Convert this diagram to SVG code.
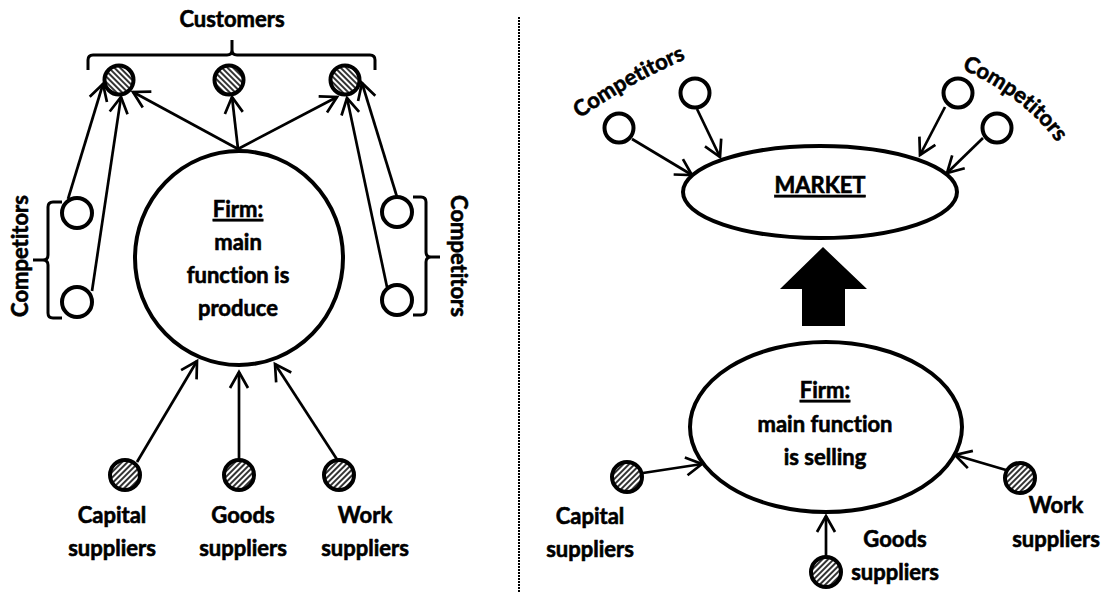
<svg xmlns="http://www.w3.org/2000/svg" width="1104" height="595" viewBox="0 0 1104 595">
<style>
.t{font-family:Lato,"Liberation Sans",Arial,sans-serif;font-weight:bold;font-size:22px;fill:#000;stroke:#000;stroke-width:0.6;text-anchor:middle;font-variant-ligatures:none}
.node{fill:#fff;stroke:#000;stroke-width:4}
.hA{fill:url(#hatchA);stroke:#000;stroke-width:4}
.hB{fill:url(#hatchB);stroke:#000;stroke-width:4}
.big{fill:#fff;stroke:#000;stroke-width:4}
.con{stroke:#000;stroke-width:2.7;fill:none;marker-end:url(#arr)}
.br{stroke:#000;stroke-width:3;fill:none}
.u{text-decoration:underline}
</style>
<defs>
<pattern id="hatchA" patternUnits="userSpaceOnUse" width="4" height="4" patternTransform="rotate(-45)">
<rect width="4" height="4" fill="#fff"/><rect width="2" height="4" fill="#333"/>
</pattern>
<pattern id="hatchB" patternUnits="userSpaceOnUse" width="4" height="4" patternTransform="rotate(45)">
<rect width="4" height="4" fill="#fff"/><rect width="2" height="4" fill="#333"/>
</pattern>
<marker id="arr" markerUnits="userSpaceOnUse" markerWidth="22" markerHeight="22" viewBox="0 0 22 22" refX="18" refY="11" orient="auto" overflow="visible">
<path d="M2,2 L18,11 L2,20" fill="none" stroke="#000" stroke-width="2.7"/>
</marker>
<path id="arcL" d="M578,120 Q629,83 688,58"/>
<path id="arcR" d="M960,68 Q1026,98 1058,144"/>
</defs>
<rect width="1104" height="595" fill="#fff"/>

<line x1="519" y1="17" x2="519" y2="593" stroke="#000" stroke-width="2" stroke-dasharray="2,1"/>

<g id="connectors">
<line class="con" x1="68" y1="199" x2="103" y2="84"/>
<line class="con" x1="92" y1="291" x2="121" y2="97"/>
<line class="con" x1="238" y1="149" x2="133" y2="92"/>
<line class="con" x1="238" y1="149" x2="232" y2="97"/>
<line class="con" x1="238" y1="149" x2="337" y2="97"/>
<line class="con" x1="387" y1="287" x2="347" y2="98"/>
<line class="con" x1="397" y1="197" x2="362" y2="83"/>
<line class="con" x1="137" y1="462" x2="197" y2="361"/>
<line class="con" x1="239" y1="460" x2="239" y2="372"/>
<line class="con" x1="338" y1="461" x2="275" y2="364"/>
<line class="con" x1="632" y1="139" x2="692" y2="175"/>
<line class="con" x1="697" y1="109" x2="720" y2="157"/>
<line class="con" x1="945" y1="107" x2="920" y2="155"/>
<line class="con" x1="983" y1="138" x2="947" y2="173"/>
<line class="con" x1="643" y1="473" x2="702" y2="464"/>
<line class="con" x1="826" y1="557" x2="826" y2="516"/>
<line class="con" x1="1006" y1="470" x2="955" y2="455"/>
<polygon points="823,247 867,289 845,289 845,326 802,326 802,289 780,289" fill="#000"/>
</g>

<g id="customers">
<path class="br" d="M88,70 V60 Q88,55 93,55 H227 Q232,55 232,50 V40 M232,50 Q232,55 237,55 H370 Q375,55 375,60 V70"/>
<text class="t" x="232" y="27">Customers</text>
<circle class="hA" cx="119" cy="80" r="14.5"/>
<circle class="hA" cx="229" cy="80" r="14.5"/>
<circle class="hA" cx="345" cy="80" r="14.5"/>
</g>

<g id="firm-left">
<ellipse class="big" cx="239" cy="258" rx="104" ry="107"/>
<text class="t u" x="238" y="217">Firm:</text>
<text class="t" x="238" y="250">main</text>
<text class="t" x="238" y="283">function is</text>
<text class="t" x="238" y="316">produce</text>
</g>

<g id="competitors-left">
<path class="br" d="M62,202 H53 Q48,202 48,207 V255 Q48,260 43,260 H33 M43,260 Q48,260 48,265 V313 Q48,318 53,318 H62"/>
<circle class="node" cx="77" cy="213" r="15"/>
<circle class="node" cx="77" cy="302" r="15"/>
<text class="t" transform="translate(28,256) rotate(-90)">Competitors</text>
</g>

<g id="competitors-right">
<path class="br" d="M413,197 H421 Q426,197 426,202 V252 Q426,257 431,257 H440 M431,257 Q426,257 426,262 V310 Q426,315 421,315 H413"/>
<circle class="node" cx="397" cy="212" r="15"/>
<circle class="node" cx="397" cy="300" r="15"/>
<text class="t" transform="translate(451,256) rotate(90)">Competitors</text>
</g>

<g id="suppliers-left">
<circle class="hB" cx="125" cy="475" r="15"/>
<circle class="hB" cx="239" cy="475" r="15"/>
<circle class="hB" cx="339" cy="475" r="15"/>
<text class="t" x="112" y="523">Capital</text>
<text class="t" x="112" y="556">suppliers</text>
<text class="t" x="243" y="523">Goods</text>
<text class="t" x="243" y="556">suppliers</text>
<text class="t" x="365" y="523">Work</text>
<text class="t" x="365" y="556">suppliers</text>
</g>

<g id="market">
<ellipse class="big" cx="820" cy="192" rx="137" ry="46"/>
<text class="t u" x="820" y="193">MARKET</text>
</g>

<g id="competitors-market">
<circle class="node" cx="619" cy="128" r="14.5"/>
<circle class="node" cx="695" cy="93" r="14.5"/>
<circle class="node" cx="958" cy="93" r="14.5"/>
<circle class="node" cx="997" cy="128" r="14.5"/>
<text class="t"><textPath href="#arcL" startOffset="50%">Competitors</textPath></text>
<text class="t"><textPath href="#arcR" startOffset="50%">Competitors</textPath></text>
</g>

<g id="firm-right">
<ellipse class="big" cx="826" cy="427" rx="136" ry="85"/>
<text class="t u" x="825" y="398">Firm:</text>
<text class="t" x="825" y="432">main function</text>
<text class="t" x="825" y="465">is selling</text>
</g>

<g id="suppliers-right">
<circle class="hB" cx="627" cy="477" r="15"/>
<circle class="hB" cx="826" cy="572" r="15"/>
<circle class="hB" cx="1020" cy="478" r="15"/>
<text class="t" x="590" y="524">Capital</text>
<text class="t" x="590" y="557">suppliers</text>
<text class="t" x="895" y="547">Goods</text>
<text class="t" x="895" y="580">suppliers</text>
<text class="t" x="1056" y="513">Work</text>
<text class="t" x="1056" y="547">suppliers</text>
</g>
</svg>
